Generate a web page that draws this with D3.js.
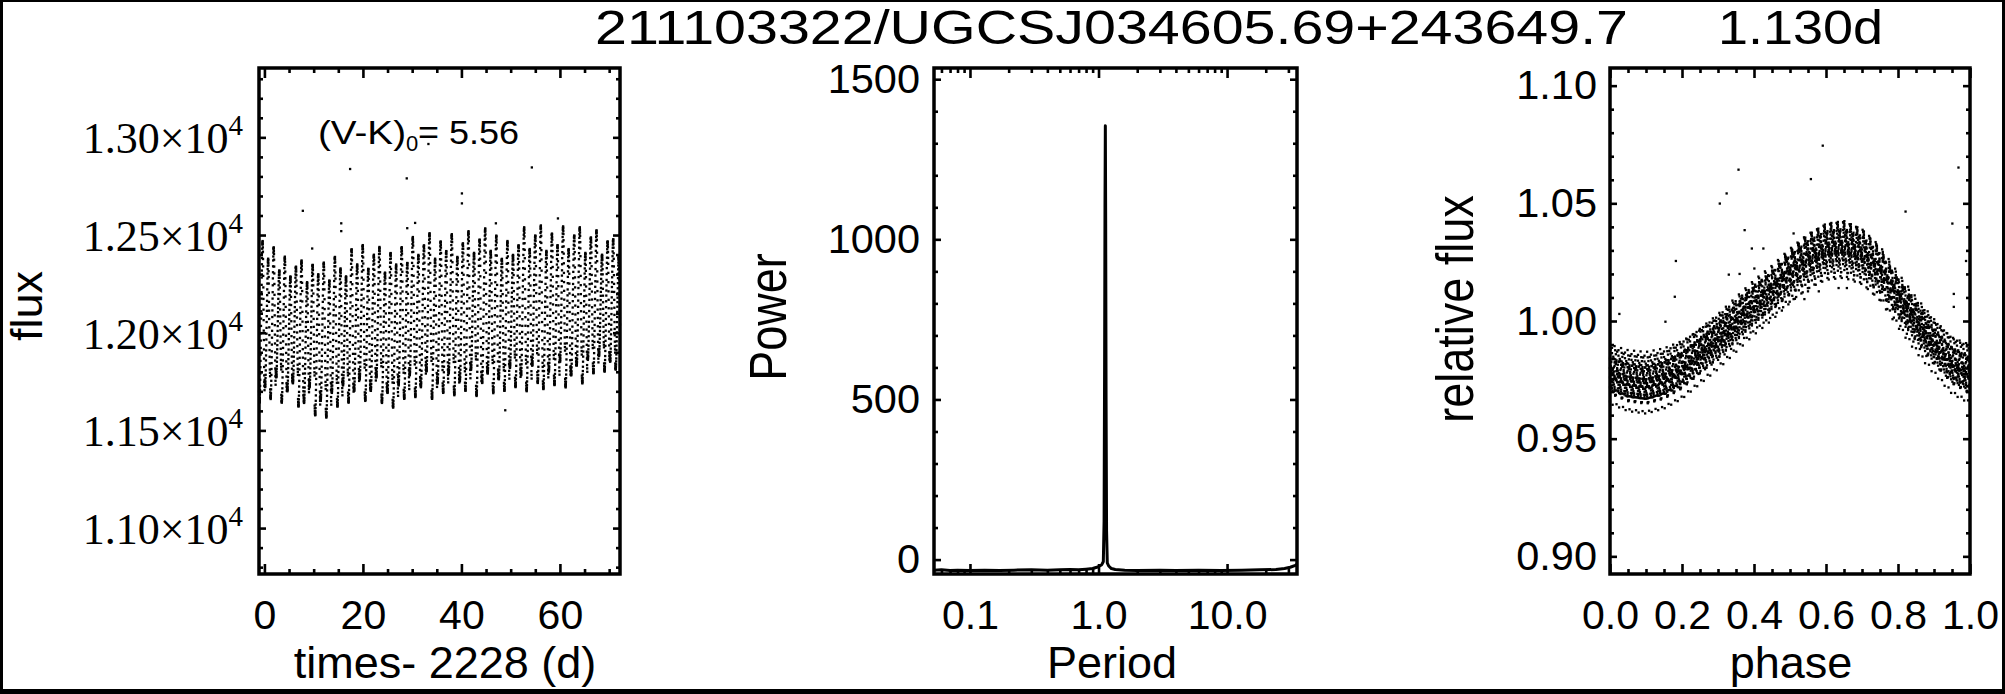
<!DOCTYPE html>
<html><head><meta charset="utf-8">
<script src="https://cdn.jsdelivr.net/npm/d3@7"></script>
<style>
body{margin:0;background:#fff}
svg{display:block}
</style></head>
<body><svg id="c" width="2005" height="694" font-family="'Liberation Sans', Arial, Helvetica, sans-serif"></svg>
<script>
// ---------------- data ----------------
const titleText = "211103322/UGCSJ034605.69+243649.7";
const periodText = "1.130d";
const colorText = ["(V-K)", "0", "= 5.56"];
const bestPeriod = 1.130;          // days
const cadence = 0.020434;          // K2 long cadence, days
const timeRange = [-1.1, 72.2];    // times - 2228 (d)

// per-cycle lowest / highest flux of the light curve (one value per 1.130 d cycle)
const cycleLow = [11640,11720,11660,11770,11640,11700,11740,11620,11640,11720,
  11575,11650,11565,11690,11620,11730,11640,11700,11760,11650,
  11700,11770,11640,11690,11615,11730,11660,11780,11670,11720,
  11800,11660,11740,11690,11790,11680,11750,11700,11810,11675,
  11740,11790,11690,11760,11700,11820,11720,11780,11700,11830,
  11740,11710,11800,11730,11850,11720,11780,11830,11740,11860,
  11790,11880,11800,11850,11810];
const cycleHigh = [12470,12380,12440,12320,12390,12290,12340,12370,12260,12350,
  12300,12360,12270,12390,12330,12290,12430,12350,12450,12330,
  12400,12440,12310,12410,12350,12440,12360,12490,12400,12450,
  12510,12380,12470,12420,12505,12390,12460,12520,12410,12480,
  12535,12420,12500,12380,12470,12400,12450,12540,12430,12500,
  12550,12420,12510,12450,12545,12430,12500,12540,12410,12490,
  12525,12400,12470,12480,12390];

// folded light-curve shape (relative flux vs phase)
const phaseKnots = [0,0.05,0.10,0.15,0.20,0.25,0.30,0.35,0.40,0.45,0.50,0.55,0.60,0.65,0.70,0.75,0.80,0.85,0.90,0.95,1.0];
const phaseShape = [0.977,0.974,0.973,0.975,0.979,0.985,0.991,0.998,1.005,1.011,1.018,1.024,1.028,1.029,1.026,1.019,1.008,0.998,0.989,0.981,0.977];

// isolated points
const fluxOutliers = [[17.4,12838],[28.9,12790],[40.1,12713],[40.1,12662],[54.3,12846],
  [7.8,12624],[9.7,12431],[30.6,12562],[59.6,12585],[33.3,12966],[15.6,12560],
  [15.6,12520],[47.0,12560],[48.9,11603],[29.0,12535]];
const phaseOutliers = [[0.591,1.0745],[0.357,1.0643],[0.558,1.0603],[0.324,1.0542],[0.305,1.0499],
  [0.968,1.0652],[0.821,1.0465],[0.951,1.0414],[0.374,1.0386],[0.510,1.0372],[0.394,1.0308],
  [0.426,1.0308],[0.401,1.0223],[0.183,1.0255],[0.330,1.0197],[0.360,1.0200],[0.180,1.0103],
  [0.154,0.9997],[0.026,1.0030],[0.955,1.0115],[0.955,1.0060],[0.989,1.0255],[0.658,1.0140],
  [0.635,1.0140],[0.550,1.0126],[0.580,1.0126],[0.510,1.0093],[0.540,1.0093]];

// periodogram
const periodValues = [0.0525,0.06,0.07,0.08,0.1,0.13,0.17,0.22,0.3,0.4,0.5,0.6,0.7,0.8,0.9,0.97,1.02,1.06,1.09,1.105,1.115,1.123,1.13,1.137,1.145,1.155,1.17,1.2,1.26,1.35,1.6,2,3,4,6,9,13,18,24,28,31,34,35];
const powerValues  = [-33,-32,-34,-33,-34,-33,-34,-33,-32,-33,-32,-31,-32,-30,-28,-24,-20,-16,-6,120,600,1100,1355,1050,500,90,-10,-20,-28,-31,-33,-34,-33,-34,-33,-34,-33,-32,-31,-28,-24,-18,-14];

// axes
const fluxDomain = [10765, 13355];
const fluxTicks = [11000, 11500, 12000, 12500, 13000];
const fluxTickLabels = ["1.10", "1.15", "1.20", "1.25", "1.30"];
const timeTicks = [0, 20, 40, 60];
const periodDomain = [0.0525, 35];
const periodTicks = [0.1, 1, 10];
const periodTickLabels = ["0.1", "1.0", "10.0"];
const powerDomain = [-45, 1535];
const powerTicks = [0, 500, 1000, 1500];
const phaseTicks = [0, 0.2, 0.4, 0.6, 0.8, 1.0];
const relDomain = [0.8925, 1.1075];
const relTicks = [0.90, 0.95, 1.00, 1.05, 1.10];

// ---------------- drawing ----------------
const SANS = "'Liberation Sans', Arial, Helvetica, sans-serif";
const SERIF = "'Liberation Serif', 'Times New Roman', serif";
const svg = d3.select("#c");
svg.append("rect").attr("width",2005).attr("height",694).attr("fill","#fff");

const B1 = {l:259, r:620, t:68, b:574};
const B2 = {l:934, r:1297, t:68, b:574};
const B3 = {l:1610, r:1970, t:68, b:574};

const x1 = d3.scaleLinear().domain(timeRange).range([B1.l, B1.r]);
const y1 = d3.scaleLinear().domain(fluxDomain).range([B1.b, B1.t]);
const x2 = d3.scaleLog().domain(periodDomain).range([B2.l, B2.r]);
const y2 = d3.scaleLinear().domain(powerDomain).range([B2.b, B2.t]);
const x3 = d3.scaleLinear().domain([0,1]).range([B3.l, B3.r]);
const y3 = d3.scaleLinear().domain(relDomain).range([B3.b, B3.t]);

// light curve built from the per-cycle extremes and the folded shape
const shape = d3.scaleLinear().domain(phaseKnots).range(phaseShape);
const sMin = d3.min(phaseShape), sMax = d3.max(phaseShape);
const nObs = Math.floor((timeRange[1]-timeRange[0])/cadence) + 1;
const obs = d3.range(nObs).map(i => {
  const t = timeRange[0] + i*cadence;
  const c = (t - timeRange[0]) / bestPeriod;
  const k = Math.min(cycleLow.length-1, Math.floor(c));
  const ph = c - Math.floor(c);
  const s = (shape(ph) - sMin) / (sMax - sMin);
  return {t, ph, f: cycleLow[k] + (cycleHigh[k]-cycleLow[k]) * s};
});
const med = d3.median(obs, d => d.f);

const DOT = 2.3;
function dots(g, data, xf, yf){
  g.selectAll(null).data(data).enter().append("rect")
    .attr("x", d => xf(d) - DOT/2).attr("y", d => yf(d) - DOT/2)
    .attr("width", DOT).attr("height", DOT).attr("fill","#000");
}

const g1 = svg.append("g"), g2 = svg.append("g"), g3 = svg.append("g");
dots(g1, obs, d => x1(d.t), d => y1(d.f));
dots(g1, fluxOutliers, d => x1(d[0]), d => y1(d[1]));
dots(g3, obs, d => x3(d.ph), d => y3(d.f/med));
dots(g3, phaseOutliers, d => x3(d[0]), d => y3(d[1]));

svg.append("clipPath").attr("id","cp2").append("rect")
  .attr("x",B2.l).attr("y",B2.t).attr("width",B2.r-B2.l).attr("height",B2.b-B2.t);
const pg = periodValues.map((p,i) => [p, powerValues[i]]);
g2.append("path").datum(pg).attr("clip-path","url(#cp2)")
  .attr("fill","none").attr("stroke","#000").attr("stroke-width",3).attr("stroke-linejoin","round")
  .attr("d", d3.line().x(d => x2(d[0])).y(d => y2(d[1])));

function styleAxis(sel, fs, family, keepText){
  sel.select(".domain").remove();
  sel.attr("font-size",null).attr("font-family",null);
  sel.selectAll(".tick line").attr("stroke","#000").attr("stroke-width",2.6);
  if (!keepText) { sel.selectAll(".tick text").remove(); return; }
  sel.selectAll(".tick text").attr("font-size",fs).attr("font-family",family).attr("fill","#000");
}

function frame(g, B, x, y, c){
  const xl = 10, xm = 5, yl = 7, ym = 4;
  const xfs = 41;
  g.append("g").attr("transform",`translate(0,${B.b})`)
    .call(d3.axisBottom(x).tickValues(c.xMajor).tickSize(-xl).tickSizeOuter(0).tickPadding(55 - 0.71*xfs).tickFormat(c.xFmt))
    .call(s => styleAxis(s, xfs, SANS, true));
  g.append("g").attr("transform",`translate(0,${B.b})`)
    .call(d3.axisBottom(x).tickValues(c.xMinor).tickSize(-xm).tickSizeOuter(0))
    .call(s => styleAxis(s));
  g.append("g").attr("transform",`translate(0,${B.t})`)
    .call(d3.axisTop(x).tickValues(c.xMajor).tickSize(-xl).tickSizeOuter(0))
    .call(s => styleAxis(s));
  g.append("g").attr("transform",`translate(0,${B.t})`)
    .call(d3.axisTop(x).tickValues(c.xMinor).tickSize(-xm).tickSizeOuter(0))
    .call(s => styleAxis(s));
  const gl = g.append("g").attr("transform",`translate(${B.l},0)`)
    .call(d3.axisLeft(y).tickValues(c.yMajor).tickSize(-yl).tickSizeOuter(0).tickPadding(c.yPad).tickFormat(c.yFmt))
    .call(s => styleAxis(s, c.yFs || 41.5, c.yFamily || SANS, true));
  g.append("g").attr("transform",`translate(${B.l},0)`)
    .call(d3.axisLeft(y).tickValues(c.yMinor).tickSize(-ym).tickSizeOuter(0))
    .call(s => styleAxis(s));
  g.append("g").attr("transform",`translate(${B.r},0)`)
    .call(d3.axisRight(y).tickValues(c.yMajor).tickSize(-yl).tickSizeOuter(0))
    .call(s => styleAxis(s));
  g.append("g").attr("transform",`translate(${B.r},0)`)
    .call(d3.axisRight(y).tickValues(c.yMinor).tickSize(-ym).tickSizeOuter(0))
    .call(s => styleAxis(s));
  g.append("rect").attr("x",B.l).attr("y",B.t).attr("width",B.r-B.l).attr("height",B.b-B.t)
    .attr("fill","none").attr("stroke","#000").attr("stroke-width",3.5);
  return gl;
}

const notIn = (arr) => v => !arr.some(a => Math.abs(a - v) < 1e-6);

// panel 1
const gl1 = frame(svg.append("g"), B1, x1, y1, {
  xMajor: timeTicks, xMinor: d3.range(0, 71, 5).filter(notIn(timeTicks)), xFmt: d => String(d),
  yMajor: fluxTicks, yMinor: d3.range(10800, 13400, 100).filter(notIn(fluxTicks)),
  yFmt: (d,i) => fluxTickLabels[i], yPad: 16, yFs: 44, yFamily: SERIF
});
gl1.selectAll(".tick text").each(function(d,i){
  const t = d3.select(this);
  t.text(null).attr("dy","0.35em");
  t.append("tspan").text(fluxTickLabels[i] + "\u00d710");
  t.append("tspan").attr("dy",-18).attr("font-size",29).text("4");
});

// panel 2
frame(svg.append("g"), B2, x2, y2, {
  xMajor: periodTicks, xMinor: x2.ticks().filter(notIn(periodTicks)), xFmt: (d,i) => periodTickLabels[i],
  yMajor: powerTicks, yMinor: d3.range(100, 1501, 100).filter(notIn(powerTicks)),
  yFmt: d => String(d), yPad: 14
});

// panel 3
frame(svg.append("g"), B3, x3, y3, {
  xMajor: phaseTicks, xMinor: d3.range(0.05, 1, 0.05).filter(notIn(phaseTicks)), xFmt: d => d.toFixed(1),
  yMajor: relTicks, yMinor: d3.range(0.90, 1.1001, 0.01).filter(notIn(relTicks)),
  yFmt: d => d.toFixed(2), yPad: 13
});

// axis titles
const T = svg.append("g").attr("font-family", SANS).attr("fill","#000");
function xTitle(txt, cx){ T.append("text").attr("x",cx).attr("y",678).attr("text-anchor","middle").attr("font-size",45).text(txt); }
xTitle("times- 2228 (d)", 445);
xTitle("Period", 1112);
xTitle("phase", 1791);
function yTitle(txt, bx, cy, sx){ T.append("text").attr("transform",`translate(${bx},${cy}) scale(${sx},1) rotate(-90)`).attr("text-anchor","middle").attr("font-size",45).text(txt); }
yTitle("flux", 42, 306, 1.0);
yTitle("Power", 786, 317, 1.15);
yTitle("relative flux", 1473, 309, 1.15);

// title
T.append("text").attr("x",595).attr("y",43.5).attr("font-size",48)
  .attr("textLength",1033).attr("lengthAdjust","spacingAndGlyphs").text(titleText);
T.append("text").attr("x",1718).attr("y",43.5).attr("font-size",48)
  .attr("textLength",165).attr("lengthAdjust","spacingAndGlyphs").text(periodText);

// colour annotation
T.append("text").attr("x",318).attr("y",144).attr("font-size",33)
  .attr("textLength",88).attr("lengthAdjust","spacingAndGlyphs").text(colorText[0]);
T.append("text").attr("x",406).attr("y",151).attr("font-size",22).text(colorText[1]);
T.append("text").attr("x",418).attr("y",144).attr("font-size",33)
  .attr("textLength",101).attr("lengthAdjust","spacingAndGlyphs").text(colorText[2]);

// outer frame
const F = svg.append("g").attr("stroke","#000");
F.append("line").attr("x1",0).attr("x2",2005).attr("y1",1).attr("y2",1).attr("stroke-width",2);
F.append("line").attr("x1",1.5).attr("x2",1.5).attr("y1",0).attr("y2",694).attr("stroke-width",3);
F.append("line").attr("x1",2003.5).attr("x2",2003.5).attr("y1",0).attr("y2",694).attr("stroke-width",3);
F.append("line").attr("x1",0).attr("x2",2005).attr("y1",691.5).attr("y2",691.5).attr("stroke-width",5);
</script></body></html>
